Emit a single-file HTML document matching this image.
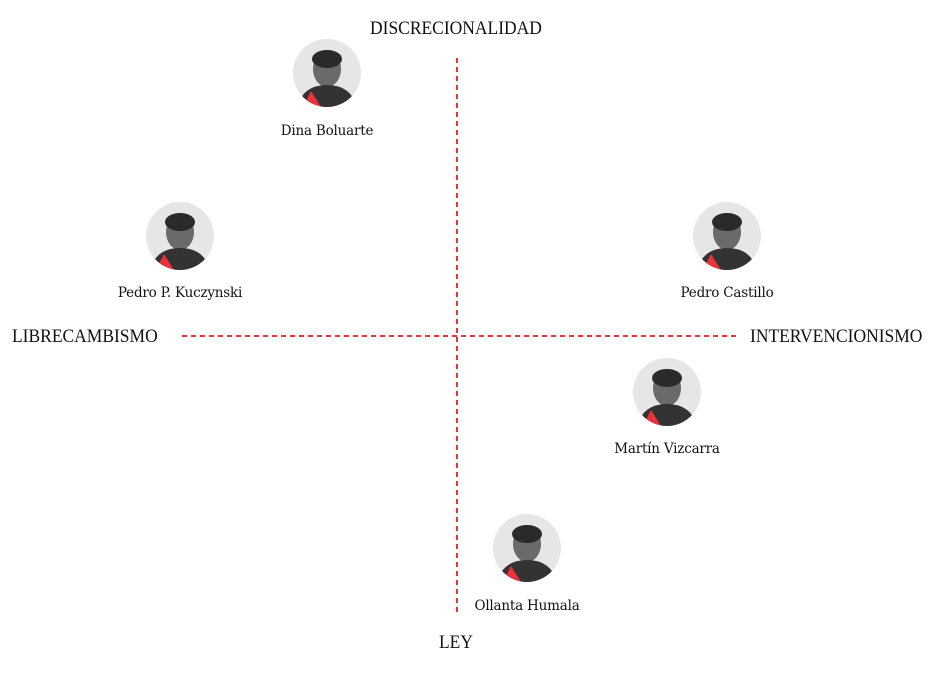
<!DOCTYPE html>
<html><head><meta charset="utf-8"><style>
html,body{margin:0;padding:0;background:#fff;}
body{width:937px;height:677px;position:relative;overflow:hidden;font-family:"DejaVu Serif","Liberation Serif",serif;color:#111;}
.ax{position:absolute;font-family:"Liberation Serif",serif;font-size:19px;letter-spacing:0;transform:scaleX(0.92);white-space:nowrap;color:#111;}
.nm{position:absolute;font-size:13.5px;white-space:nowrap;transform:translateX(-50%);letter-spacing:-0.2px;color:#111;}
</style></head><body>
<svg width="937" height="677" style="position:absolute;left:0;top:0">
<line x1="457" y1="58" x2="457" y2="612" stroke="#e8333a" stroke-width="2" stroke-dasharray="5,4"/>
<line x1="182" y1="336" x2="736" y2="336" stroke="#e8333a" stroke-width="2" stroke-dasharray="5,4"/>
<defs>
<g id="p">
<circle r="34" fill="#e6e6e6"/>
<clipPath id="c"><circle r="34"/></clipPath>
<g clip-path="url(#c)">
<ellipse cx="0" cy="-4" rx="14" ry="18" fill="#6a6a6a"/>
<ellipse cx="0" cy="-14" rx="15" ry="9" fill="#2a2a2a"/>
<path d="M-30 34 Q-24 12 0 12 Q24 12 30 34 Z" fill="#333"/>
<path d="M-24 34 L-16 18 L-6 34 Z" fill="#e8333a"/>
</g>
</g>
</defs>
<use href="#p" x="327" y="73"/>
<use href="#p" x="180" y="236"/>
<use href="#p" x="727" y="236"/>
<use href="#p" x="667" y="392"/>
<use href="#p" x="527" y="548"/>
</svg>
<div class="ax" style="left:370px;top:18px;transform-origin:left">DISCRECIONALIDAD</div>
<div class="ax" style="left:12px;top:326px;transform-origin:left">LIBRECAMBISMO</div>
<div class="ax" style="left:750px;top:326px;transform-origin:left">INTERVENCIONISMO</div>
<div class="ax" style="left:439px;top:632px;transform-origin:left">LEY</div>
<div class="nm" style="left:327px;top:123px">Dina Boluarte</div>
<div class="nm" style="left:180px;top:285px">Pedro P. Kuczynski</div>
<div class="nm" style="left:727px;top:285px">Pedro Castillo</div>
<div class="nm" style="left:667px;top:441px">Martín Vizcarra</div>
<div class="nm" style="left:527px;top:598px">Ollanta Humala</div>
</body></html>
